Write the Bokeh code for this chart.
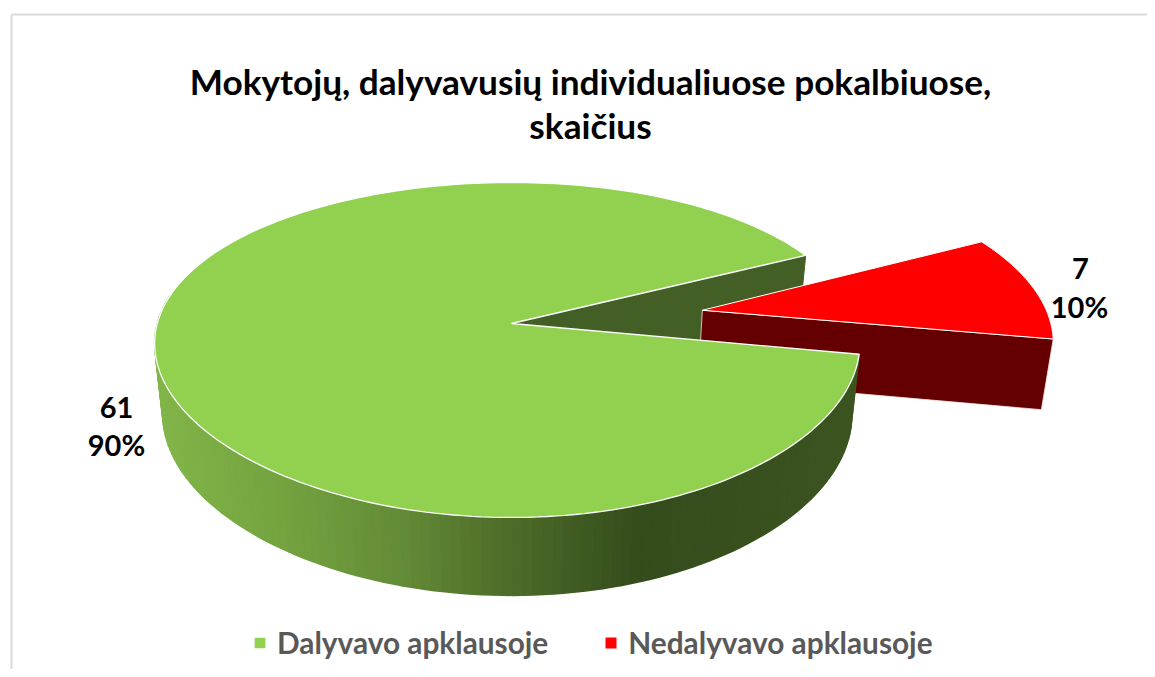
import math
import numpy as np
from bokeh.plotting import figure
from bokeh.models import Range1d, Legend, LegendItem
from bokeh.core.properties import value
from bokeh.embed import file_html
from bokeh.resources import INLINE

# ---- data -------------------------------------------------------------
categories = ["Dalyvavo apklausoje", "Nedalyvavo apklausoje"]
counts = [61, 7]
percent_labels = ["90%", "10%"]
title_lines = ["Mokytojų, dalyvavusių individualiuose pokalbiuose,", "skaičius"]

# ---- style / projection ----------------------------------------------
GREEN, RED = "#92d050", "#ff0000"
FONT = "Lato"
XC = 511.0
GREEN_VIEW = dict(kx=-0.12, ky=-0.158, m=0.012)
RED_VIEW = dict(kx=-0.13, ky=-0.13, m=0.0)
GREEN_TOP = dict(y0=323.0, a=163.3, b=350.0)
GREEN_BOT = dict(y0=393.0, a=170.0, b=342.0)
RED_TOP = dict(y0=323.0, a=163.3, b=347.6)
RED_BOT = dict(y0=393.0, a=170.0, b=340.0)
EXPLODE = 0.561
RED_MID_DEG = 8.4              # direction of the exploded slice
GREEN_GAP_MID_DEG = 8.0        # middle of the gap the slice leaves


def project(X, Y, plane, view):
    dx = 1 + view["kx"] * Y + view["m"] * X
    dy = 1 + view["ky"] * Y
    return XC + plane["b"] * X / dx, plane["y0"] + plane["a"] * Y / dy


def rim(theta, plane, view, ox=0.0, oy=0.0):
    t = np.radians(theta)
    return project(np.cos(t) + ox, -np.sin(t) + oy, plane, view)


def lerp_colour(x):
    stops_x = [155, 300, 400, 500, 640, 860]
    stops = [(0x82, 0xb6, 0x4a), (0x72, 0xa0, 0x3e), (0x64, 0x8c, 0x38),
             (0x50, 0x6f, 0x2a), (0x35, 0x4c, 0x1d), (0x3c, 0x55, 0x21)]
    c = [int(np.interp(x, stops_x, [s[i] for s in stops])) for i in range(3)]
    return "#%02x%02x%02x" % tuple(c)


total = sum(counts)
red_span = 360.0 * counts[1] / total
red_start = RED_MID_DEG - red_span / 2     # lower radial edge
red_end = RED_MID_DEG + red_span / 2       # upper radial edge
green_start = GREEN_GAP_MID_DEG + red_span / 2
green_end = GREEN_GAP_MID_DEG - red_span / 2 + 360
ox = EXPLODE * math.cos(math.radians(RED_MID_DEG))
oy = -EXPLODE * math.sin(math.radians(RED_MID_DEG))

p = figure(width=1147, height=669, x_range=Range1d(0, 1147), y_range=Range1d(669, 0),
           output_backend="svg", toolbar_location=None, min_border=0,
           background_fill_color="white", border_fill_color="white")
p.axis.visible = False
p.grid.visible = False
p.outline_line_color = None

# chart frame
p.segment([11, 11], [14, 14], [11, 1147], [669, 14], line_color="#d9d9d9", line_width=2)

# back radial wall of the green slice
tx, ty = rim(green_start, GREEN_TOP, GREEN_VIEW)
bx, by = rim(green_start, GREEN_BOT, GREEN_VIEW)
ax0, ay0 = project(0, 0, GREEN_TOP, GREEN_VIEW)
ax1, ay1 = project(0, 0, GREEN_BOT, GREEN_VIEW)
p.patch([ax0, tx, bx, ax1], [ay0, ty, by, ay1], fill_color="#435f25", line_color="#435f25")

# red radial wall
cx0, cy0 = project(ox, oy, RED_TOP, RED_VIEW)
cx1, cy1 = project(ox, oy, RED_BOT, RED_VIEW)
dx0, dy0 = rim(red_start, RED_TOP, RED_VIEW, ox, oy)
dx1, dy1 = rim(red_start, RED_BOT, RED_VIEW, ox, oy)
p.patch([cx0, dx0, dx1, cx1], [cy0, dy0, dy1, cy1], fill_color="#640000",
        line_color="#f2e6e6", line_width=0.8)

# red top
th = np.linspace(red_start, red_end, 40)
rx, ry = rim(th, RED_TOP, RED_VIEW, ox, oy)
red_top = p.patch([cx0, *rx], [cy0, *ry], fill_color=RED, line_color="#ffffff", line_width=1.0)

# green outer wall, shaded strip by strip
edges = np.linspace(170, green_end, 121)
for a, b in zip(edges[:-1], edges[1:]):
    xa, ya = rim(a, GREEN_TOP, GREEN_VIEW)
    xb, yb = rim(b, GREEN_TOP, GREEN_VIEW)
    xc, yc = rim(b, GREEN_BOT, GREEN_VIEW)
    xd, yd = rim(a, GREEN_BOT, GREEN_VIEW)
    col = lerp_colour((xa + xb) / 2)
    p.patch([xa, xb, xc, xd], [ya, yb, yc, yd], fill_color=col, line_color=col, line_width=1.5)

# green top
th = np.linspace(green_start, green_end, 240)
gx, gy = rim(th, GREEN_TOP, GREEN_VIEW)
green_top = p.patch([ax0, *gx], [ay0, *gy], fill_color=GREEN, line_color="#ffffff", line_width=1.3)

# data labels
p.text([116, 116], [407, 444], text=[str(counts[0]), percent_labels[0]],
       text_font=value(FONT), text_font_style="bold", text_font_size="29px",
       text_color="#000000", text_align="center", text_baseline="middle")
p.text([1080, 1079], [268, 306], text=[str(counts[1]), percent_labels[1]],
       text_font=value(FONT), text_font_style="bold", text_font_size="29px",
       text_color="#000000", text_align="center", text_baseline="middle")

# title
p.text([590, 590], [80, 124], text=title_lines, text_font=value(FONT), text_font_style="bold",
       text_font_size="35.2px", text_color="#000000", text_align="center", text_baseline="middle")

# legend
legend = Legend(items=[LegendItem(label=categories[0], renderers=[green_top]),
                       LegendItem(label=categories[1], renderers=[red_top])],
                orientation="horizontal", location=(252, 9), margin=0, padding=0, spacing=55,
                glyph_width=15, glyph_height=15, label_standoff=10, label_height=30,
                label_text_font=FONT, label_text_font_style="bold", label_text_font_size="29.8px",
                label_text_color="#595959", border_line_color=None, background_fill_alpha=0)
p.add_layout(legend, "center")

open("out.html", "w").write(file_html(p, INLINE))
